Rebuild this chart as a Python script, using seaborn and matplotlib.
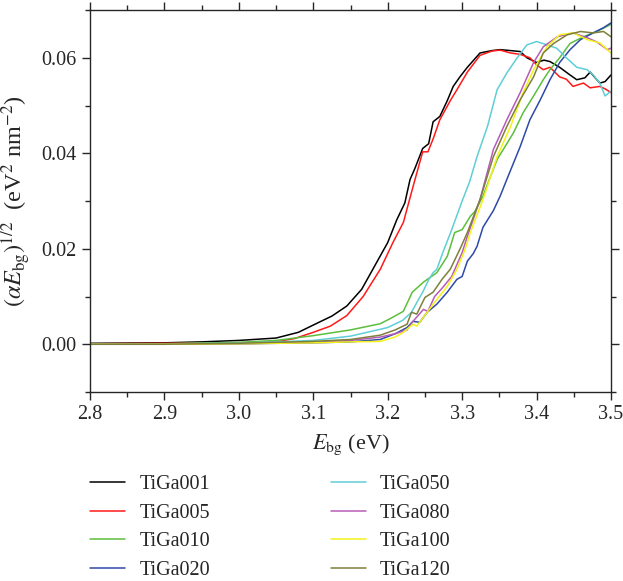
import numpy as np
import pandas as pd
import matplotlib
matplotlib.use("Agg")
import matplotlib.pyplot as plt
import seaborn as sns
from matplotlib.ticker import MultipleLocator

names = ["TiGa001", "TiGa005", "TiGa010", "TiGa020", "TiGa050", "TiGa080", "TiGa100", "TiGa120"]
colors = ["#000000", "#ff1a1a", "#5cbf3c", "#2e4aa8", "#5fcfd6", "#b65cb8", "#f2f21a", "#7f7f3c"]

x_001 = [2.8, 2.9, 2.95, 3.0, 3.05, 3.08, 3.105, 3.125, 3.145, 3.165, 3.18, 3.2, 3.212, 3.223, 3.23, 3.237,
         3.247, 3.255, 3.261, 3.27, 3.28, 3.288, 3.297, 3.307, 3.324, 3.34, 3.351, 3.365, 3.378, 3.387, 3.40,
         3.41, 3.418, 3.431, 3.444, 3.454, 3.465, 3.472, 3.485, 3.492, 3.5]
y_001 = [0.0002, 0.0003, 0.0005, 0.0008, 0.0013, 0.0025, 0.0044, 0.0059, 0.008, 0.0115, 0.0157, 0.0213, 0.026,
         0.0296, 0.0345, 0.037, 0.041, 0.042, 0.0466, 0.0477, 0.051, 0.054, 0.056, 0.058, 0.061, 0.0615, 0.0617,
         0.0615, 0.0613, 0.060, 0.059, 0.0595, 0.0592, 0.058, 0.0565, 0.0554, 0.0558, 0.057, 0.0547, 0.055, 0.0564]

x_005 = [2.8, 2.9, 3.0, 3.05, 3.075, 3.1, 3.123, 3.145, 3.167, 3.19, 3.207, 3.221, 3.234, 3.247, 3.254, 3.261,
         3.27, 3.284, 3.293, 3.307, 3.324, 3.34, 3.351, 3.365, 3.378, 3.391, 3.40, 3.409, 3.418, 3.431, 3.44,
         3.449, 3.463, 3.472, 3.485, 3.492, 3.5]
y_005 = [0.0001, 0.0002, 0.0003, 0.0005, 0.0012, 0.0025, 0.0038, 0.006, 0.010, 0.0157, 0.0213, 0.0255, 0.033,
         0.0403, 0.0403, 0.043, 0.047, 0.051, 0.0533, 0.057, 0.0605, 0.0614, 0.0616, 0.061, 0.0607, 0.060,
         0.0585, 0.0575, 0.058, 0.056, 0.0555, 0.054, 0.0547, 0.0537, 0.054, 0.0535, 0.0527]

x_010 = [2.8, 2.9, 3.0, 3.05, 3.1, 3.15, 3.19, 3.205, 3.221, 3.233, 3.248, 3.257, 3.266, 3.28, 3.29, 3.30,
         3.311, 3.317, 3.328, 3.334, 3.347, 3.36, 3.369, 3.382, 3.396, 3.409, 3.418, 3.431, 3.445, 3.463, 3.481, 3.5]
y_010 = [0.0, 0.0001, 0.0004, 0.0008, 0.0018, 0.003, 0.0043, 0.0055, 0.0069, 0.0109, 0.013, 0.014, 0.015,
         0.0184, 0.0234, 0.024, 0.0268, 0.0278, 0.031, 0.0335, 0.0387, 0.042, 0.0443, 0.0485, 0.052, 0.0554,
         0.0575, 0.060, 0.063, 0.0644, 0.0655, 0.067]

x_020 = [2.8, 2.9, 3.0, 3.1, 3.15, 3.19, 3.21, 3.226, 3.234, 3.243, 3.253, 3.266, 3.28, 3.293, 3.30, 3.307,
         3.315, 3.32, 3.328, 3.342, 3.351, 3.36, 3.378, 3.391, 3.405, 3.418, 3.431, 3.445, 3.459, 3.476, 3.49, 3.5]
y_020 = [0.0, 0.0, 0.0001, 0.0003, 0.0005, 0.001, 0.0022, 0.0035, 0.0048, 0.0046, 0.0067, 0.0084, 0.0109,
         0.0136, 0.0142, 0.0174, 0.019, 0.0205, 0.0245, 0.028, 0.031, 0.0345, 0.0414, 0.047, 0.0512, 0.0554,
         0.059, 0.0617, 0.0638, 0.0652, 0.0663, 0.0673]

x_050 = [2.8, 2.9, 3.0, 3.1, 3.15, 3.2, 3.22, 3.232, 3.24, 3.247, 3.255, 3.261, 3.266, 3.274, 3.286, 3.30,
         3.31, 3.32, 3.334, 3.347, 3.36, 3.374, 3.387, 3.40, 3.414, 3.427, 3.44, 3.454, 3.468, 3.476, 3.485,
         3.492, 3.5]
y_050 = [0.0, 0.0001, 0.0002, 0.0008, 0.0017, 0.0035, 0.005, 0.0067, 0.009, 0.0109, 0.0135, 0.015, 0.0157,
         0.0192, 0.024, 0.030, 0.034, 0.0393, 0.0456, 0.0533, 0.0568, 0.060, 0.0627, 0.0634, 0.0627, 0.062,
         0.060, 0.058, 0.0575, 0.0564, 0.0547, 0.052, 0.053]

x_080 = [2.8, 2.9, 3.0, 3.1, 3.15, 3.19, 3.21, 3.226, 3.234, 3.248, 3.254, 3.263, 3.274, 3.286, 3.30, 3.307,
         3.324, 3.342, 3.36, 3.378, 3.396, 3.409, 3.428, 3.449, 3.468, 3.481, 3.495, 3.5]
y_080 = [0.0, 0.0, 0.0001, 0.0004, 0.0008, 0.0015, 0.0022, 0.003, 0.0048, 0.0073, 0.0069, 0.010, 0.0119,
         0.0142, 0.0192, 0.0226, 0.0303, 0.0408, 0.047, 0.0527, 0.059, 0.0623, 0.0644, 0.0652, 0.0642, 0.0633,
         0.0617, 0.062]

x_100 = [2.8, 2.9, 3.0, 3.1, 3.15, 3.19, 3.21, 3.221, 3.234, 3.239, 3.253, 3.266, 3.28, 3.293, 3.304, 3.311,
         3.328, 3.347, 3.365, 3.382, 3.396, 3.414, 3.431, 3.449, 3.468, 3.485, 3.495, 3.5]
y_100 = [0.0, 0.0, 0.0001, 0.0003, 0.0005, 0.0006, 0.0015, 0.0025, 0.0042, 0.0038, 0.0067, 0.0094, 0.0121,
         0.0157, 0.0199, 0.0234, 0.0303, 0.0393, 0.0456, 0.0527, 0.0575, 0.0623, 0.0648, 0.0652, 0.0638,
         0.0631, 0.0617, 0.061]

x_120 = [2.8, 2.9, 3.0, 3.1, 3.15, 3.19, 3.21, 3.226, 3.232, 3.239, 3.25, 3.261, 3.273, 3.284, 3.297, 3.307,
         3.324, 3.342, 3.36, 3.378, 3.396, 3.409, 3.423, 3.441, 3.459, 3.476, 3.49, 3.5]
y_120 = [0.0, 0.0, 0.0002, 0.0006, 0.001, 0.0019, 0.003, 0.0042, 0.0067, 0.0063, 0.0098, 0.0109, 0.0136,
         0.0157, 0.0199, 0.0234, 0.0303, 0.0393, 0.0456, 0.0512, 0.056, 0.061, 0.063, 0.0648, 0.0655, 0.0652,
         0.0655, 0.0644]

xs = [x_001, x_005, x_010, x_020, x_050, x_080, x_100, x_120]
ys = [y_001, y_005, y_010, y_020, y_050, y_080, y_100, y_120]

frames = []
for n, xv, yv in zip(names, xs, ys):
    frames.append(pd.DataFrame({"E": xv, "A": yv, "sample": n}))
df = pd.concat(frames, ignore_index=True)

sns.set_style("ticks")
plt.rcParams["font.family"] = ["Liberation Serif", "DejaVu Serif"]
plt.rcParams["mathtext.fontset"] = "stix"
fs = 14.5

fig = plt.figure(figsize=(6.23, 5.81), dpi=100)
ax = fig.add_axes([90 / 623, 1 - 392 / 581, (611 - 90) / 623, (392 - 10) / 581])

sns.lineplot(data=df, x="E", y="A", hue="sample", hue_order=names, palette=colors,
             estimator=None, sort=True, linewidth=1.1, ax=ax, legend=True)

ax.set_xlim(2.8, 3.5)
ax.set_ylim(-0.01, 0.07)
ax.xaxis.set_minor_locator(MultipleLocator(0.05))
ax.yaxis.set_minor_locator(MultipleLocator(0.01))
ax.set_xticks(np.arange(2.8, 3.51, 0.1))
ax.set_xticklabels([f"{v:.1f}" for v in np.arange(2.8, 3.51, 0.1)])
ax.set_yticks([0.0, 0.02, 0.04, 0.06])
ax.set_yticklabels(["0.00", "0.02", "0.04", "0.06"])
ax.tick_params(which="both", direction="out", top=True, right=True, labelsize=fs, width=1.0)
ax.tick_params(which="major", length=6)
ax.tick_params(which="minor", length=3.5)
for s in ax.spines.values():
    s.set_linewidth(1.0)

ax.set_xlabel(r"$E_{\mathrm{bg}}$ (eV)", fontsize=16, labelpad=6)
ax.set_ylabel(r"$(\alpha E_{\mathrm{bg}})^{1/2}$  (eV$^{2}$ nm$^{-2}$)", fontsize=17.5, labelpad=6)

h, l = ax.get_legend_handles_labels()
ax.get_legend().remove()
fig.legend(h, l, loc="upper left", bbox_to_anchor=(90 / 623, 1 - 475 / 581), ncol=2, frameon=False,
           fontsize=14.5, handlelength=1.75, handletextpad=0.7, columnspacing=6.0, labelspacing=0.47,
           borderpad=0, borderaxespad=0)

fig.savefig("out.png", dpi=100)
